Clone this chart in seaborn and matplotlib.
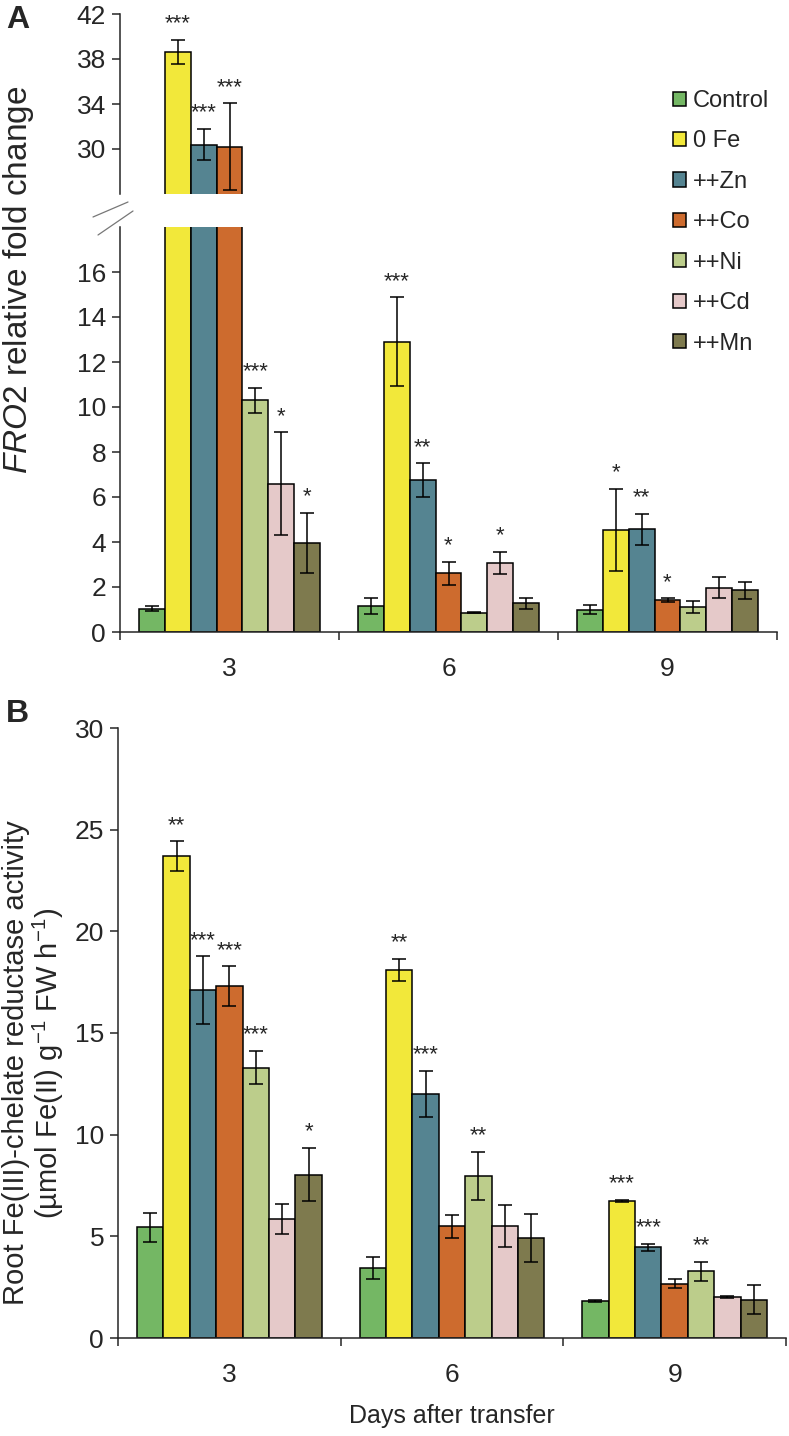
import numpy as np
import pandas as pd
import matplotlib.pyplot as plt
import seaborn as sns
from matplotlib.lines import Line2D
from matplotlib.patches import Patch

# Data
days = ["3", "6", "9"]
treatments = ["Control", "0 Fe", "++Zn", "++Co", "++Ni", "++Cd", "++Mn"]
colors = ["#74b764", "#f2e83a", "#558491", "#cd6b2e", "#bccd8b", "#e5c9c9", "#7e7a4e"]

# A: FRO2 relative fold change (rows = treatments, cols = days)
fro2_mean = [
    [1.04, 1.14, 1.00],
    [38.6, 12.9, 4.53],
    [30.4, 6.74, 4.56],
    [30.2, 2.61, 1.42],
    [10.3, 0.86, 1.11],
    [6.59, 3.07, 1.97],
    [3.97, 1.27, 1.85],
]
fro2_err = [
    [0.12, 0.35, 0.18],
    [1.08, 1.97, 1.84],
    [1.39, 0.75, 0.70],
    [3.85, 0.52, 0.07],
    [0.55, 0.03, 0.27],
    [2.28, 0.50, 0.47],
    [1.33, 0.26, 0.37],
]
fro2_sig = [
    ["", "", ""],
    ["***", "***", "*"],
    ["***", "**", "**"],
    ["***", "*", "*"],
    ["***", "", ""],
    ["*", "*", ""],
    ["*", "", ""],
]

# B: root Fe(III)-chelate reductase activity
fcr_mean = [
    [5.45, 3.44, 1.82],
    [23.7, 18.1, 6.75],
    [17.1, 12.0, 4.46],
    [17.3, 5.49, 2.67],
    [13.3, 7.96, 3.28],
    [5.86, 5.50, 2.01],
    [8.03, 4.93, 1.88],
]
fcr_err = [
    [0.71, 0.52, 0.05],
    [0.72, 0.55, 0.05],
    [1.67, 1.12, 0.16],
    [0.98, 0.57, 0.23],
    [0.83, 1.19, 0.48],
    [0.75, 1.04, 0.05],
    [1.31, 1.19, 0.72],
]
fcr_sig = [
    ["", "", ""],
    ["**", "**", "***"],
    ["***", "***", "***"],
    ["***", "", ""],
    ["***", "**", "**"],
    ["", "", ""],
    ["*", "", ""],
]

rows = []
for i, t in enumerate(treatments):
    for j, d in enumerate(days):
        rows.append({"day": d, "treatment": t,
                     "fro2": fro2_mean[i][j], "fro2_err": fro2_err[i][j], "fro2_sig": fro2_sig[i][j],
                     "fcr": fcr_mean[i][j], "fcr_err": fcr_err[i][j], "fcr_sig": fcr_sig[i][j]})
df = pd.DataFrame(rows)

sns.set_style("ticks")
plt.rcParams["font.family"] = ["Liberation Sans", "DejaVu Sans"]
plt.rcParams["mathtext.fontset"] = "custom"
plt.rcParams["mathtext.rm"] = "Liberation Sans"
plt.rcParams["mathtext.it"] = "Liberation Sans:italic"
plt.rcParams["axes.linewidth"] = 1.1

W, H = 789, 1436
fig = plt.figure(figsize=(W / 100, H / 100), dpi=100)


def box(l, t, r, b):
    return [l / W, 1 - b / H, (r - l) / W, (b - t) / H]


ax_top = fig.add_axes(box(120, 14, 777, 194))
ax_bot = fig.add_axes(box(120, 227, 777, 632))
ax_b = fig.add_axes(box(118, 728, 786, 1338))


def draw(ax, col):
    sns.barplot(data=df, x="day", y=col, hue="treatment", order=days, hue_order=treatments,
                palette=colors, saturation=1, width=0.83, edgecolor="black", linewidth=1.1,
                errorbar=None, legend=False, ax=ax)
    for t, cont in zip(treatments, ax.containers):
        for d, bar in zip(days, cont):
            r = df[(df.treatment == t) & (df.day == d)].iloc[0]
            x = bar.get_x() + bar.get_width() / 2
            m, e, s = r[col], r[col + "_err"], r[col + "_sig"]
            ax.errorbar(x, m, yerr=e, fmt="none", ecolor="black", elinewidth=1.1,
                        capsize=5, capthick=1.1)
            if s:
                ax.annotate(s, (x, m + e), xytext=(0, 4), textcoords="offset points",
                            ha="center", va="bottom", fontsize=16)
    ax.set_xlim(-0.5, 2.5)
    ax.set_xlabel("")
    ax.set_ylabel("")
    sns.despine(ax=ax)
    ax.tick_params(axis="y", length=6, width=1.1, pad=4, labelsize=19)
    ax.set_xticks([0, 1, 2])
    ax.set_xticks([-0.5, 0.5, 1.5, 2.5], minor=True)
    ax.tick_params(axis="x", which="major", length=0, pad=18, labelsize=19)
    ax.tick_params(axis="x", which="minor", length=6, width=1.1)


draw(ax_top, "fro2")
draw(ax_bot, "fro2")
draw(ax_b, "fcr")

ax_top.set_ylim(26, 42)
ax_top.set_yticks([30, 34, 38, 42])
ax_top.spines["bottom"].set_visible(False)
ax_top.tick_params(axis="x", which="both", length=0, labelbottom=False)

ax_bot.set_ylim(0, 18)
ax_bot.set_yticks(range(0, 17, 2))

ax_b.set_ylim(0, 30)
ax_b.set_yticks(range(0, 31, 5))
ax_b.set_xlabel("Days after transfer", fontsize=18, labelpad=12)

# axis break marks
for (x0, y0, x1, y1) in [(93, 217, 128, 202), (98, 235, 133, 211)]:
    fig.add_artist(Line2D([x0 / W, x1 / W], [1 - y0 / H, 1 - y1 / H], color="#777777", lw=0.9))

fig.text(19 / W, 1 - 280 / H, r"$\mathit{FRO2}$ relative fold change", rotation=90,
         ha="center", va="center", fontsize=24)
fig.text(34 / W, 1 - 1063 / H,
         "Root Fe(III)-chelate reductase activity\n(µmol Fe(II) g$^{-1}$ FW h$^{-1}$)",
         rotation=90, ha="center", va="center", fontsize=21,
         multialignment="center", linespacing=1.05)

fig.text(6 / W, 1 - 20 / H, "A", fontsize=23, fontweight="bold", va="center")
fig.text(6 / W, 1 - 714 / H, "B", fontsize=23, fontweight="bold", va="center")

handles = [Patch(facecolor=c, edgecolor="black", linewidth=1.1) for c in colors]
fig.legend(handles, treatments, loc="upper left", bbox_to_anchor=(673 / W, 1 - 90 / H),
           frameon=False, fontsize=17, handlelength=0.55, handleheight=0.55,
           handletextpad=0.3, labelspacing=0.78, borderpad=0, borderaxespad=0)

fig.savefig("out.png", dpi=100)
